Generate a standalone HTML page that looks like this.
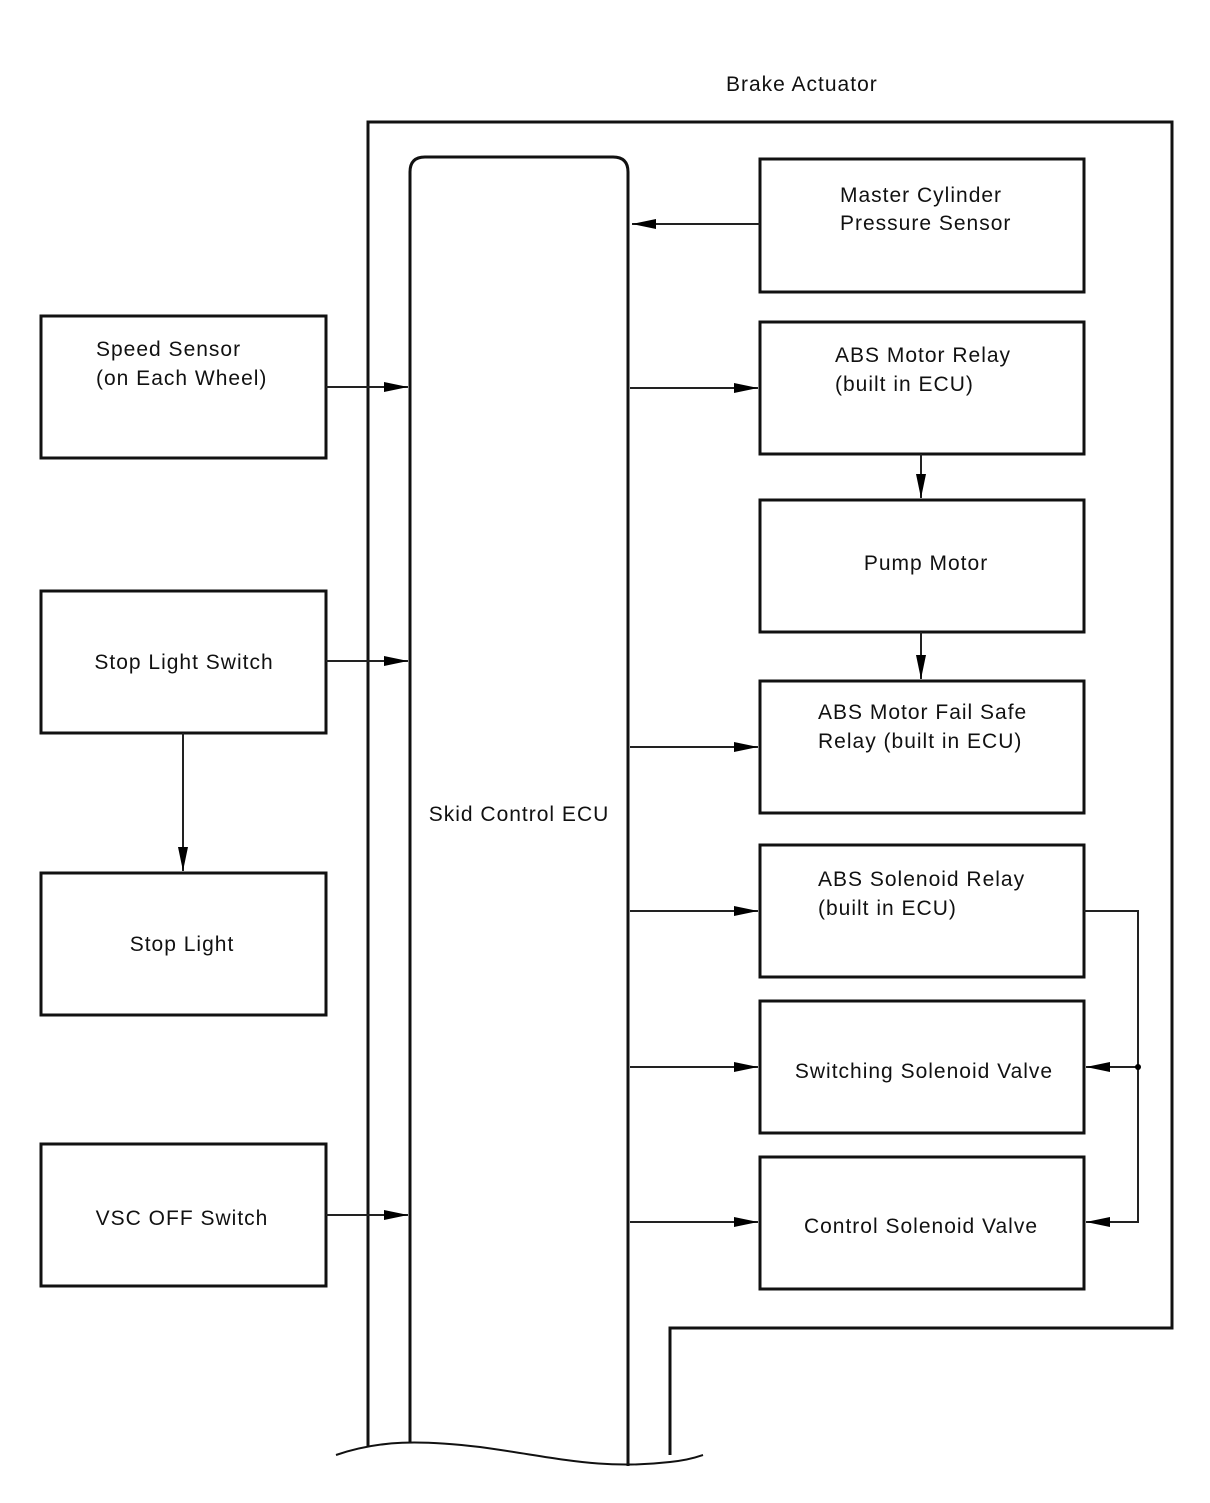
<!DOCTYPE html>
<html><head><style>body{margin:0;background:#fff}svg text{font-family:"Liberation Sans",Arial,sans-serif;font-size:21px;letter-spacing:1px;fill:#111}</style></head><body>
<svg width="1210" height="1498" viewBox="0 0 1210 1498" xmlns="http://www.w3.org/2000/svg">
<defs><marker id="a" markerWidth="24" markerHeight="12" refX="24" refY="6" orient="auto" markerUnits="userSpaceOnUse"><path d="M0,1 L24,6 L0,11 Z" fill="#000"/></marker></defs>
<g fill="none" stroke="#111" stroke-width="3">
<path d="M368,1446 V122 H1172 V1328 H670 V1455"/>
<path d="M410,1443 V172 Q410,157 425,157 H613 Q628,157 628,172 V1466"/>
<path d="M336,1455 C380,1440 420,1440 480,1447 C560,1458 600,1470 670,1462 C690,1460 700,1456 703,1455" stroke-width="2"/>
<rect x="760" y="159" width="324" height="133"/>
<rect x="760" y="322" width="324" height="132"/>
<rect x="760" y="500" width="324" height="132"/>
<rect x="760" y="681" width="324" height="132"/>
<rect x="760" y="845" width="324" height="132"/>
<rect x="760" y="1001" width="324" height="132"/>
<rect x="760" y="1157" width="324" height="132"/>
<rect x="41" y="316" width="285" height="142"/>
<rect x="41" y="591" width="285" height="142"/>
<rect x="41" y="873" width="285" height="142"/>
<rect x="41" y="1144" width="285" height="142"/>
</g>
<g stroke="#222" stroke-width="2" fill="none" marker-end="url(#a)">
<path d="M760,224 H632"/>
<path d="M326,387 H408"/>
<path d="M326,661 H408"/>
<path d="M326,1215 H408"/>
<path d="M630,388 H758"/>
<path d="M630,747 H758"/>
<path d="M630,911 H758"/>
<path d="M630,1067 H758"/>
<path d="M630,1222 H758"/>
<path d="M921,454 V498"/>
<path d="M921,632 V679"/>
<path d="M183,733 V871"/>
<path d="M1138,1067 H1086"/>
<path d="M1084,911 H1138 V1222 H1086"/>
</g>
<circle cx="1138" cy="1067" r="3" fill="#000"/>
<text x="726" y="91">Brake Actuator</text>
<text x="840" y="202">Master Cylinder</text>
<text x="840" y="230">Pressure Sensor</text>
<text x="835" y="362">ABS Motor Relay</text>
<text x="835" y="391">(built in ECU)</text>
<text x="926" y="570" text-anchor="middle">Pump Motor</text>
<text x="818" y="719">ABS Motor Fail Safe</text>
<text x="818" y="748">Relay (built in ECU)</text>
<text x="818" y="886">ABS Solenoid Relay</text>
<text x="818" y="915">(built in ECU)</text>
<text x="924" y="1078" text-anchor="middle">Switching Solenoid Valve</text>
<text x="921" y="1233" text-anchor="middle">Control Solenoid Valve</text>
<text x="96" y="356">Speed Sensor</text>
<text x="96" y="385">(on Each Wheel)</text>
<text x="184" y="669" text-anchor="middle">Stop Light Switch</text>
<text x="182" y="951" text-anchor="middle">Stop Light</text>
<text x="182" y="1225" text-anchor="middle">VSC OFF Switch</text>
<text x="519" y="821" text-anchor="middle">Skid Control ECU</text>
</svg>
</body></html>
